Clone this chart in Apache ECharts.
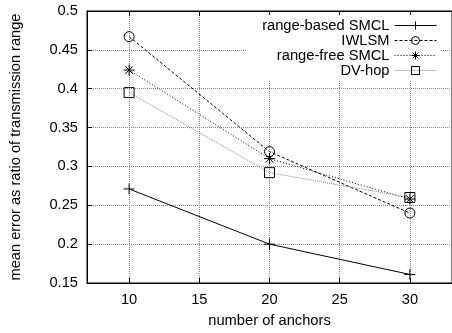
<!DOCTYPE html>
<html>
<head>
<meta charset="utf-8">
<script src="https://cdn.jsdelivr.net/npm/echarts@6/dist/echarts.min.js"></script>
<style>
  html, body { margin: 0; padding: 0; background: #fff; }
  #chart { width: 452px; height: 333px; }
</style>
</head>
<body>
<div id="chart"></div>
<script>
var anchors = [10, 20, 30];
var xTicks = [10, 15, 20, 25, 30];
var rangeBased = [0.271, 0.200, 0.161];
var iwlsm = [0.467, 0.319, 0.240];
var rangeFree = [0.424, 0.310, 0.258];
var dvHop = [0.395, 0.292, 0.260];

var FONT = "Liberation Sans";
var PLUS = "path://M5,0 L5,10 M0,5 L10,5";
var STAR = "path://M5,0 L5,10 M0,5 L10,5 M1.5,1.5 L8.5,8.5 M8.5,1.5 L1.5,8.5";
var SQUARE = "path://M0,0 L10,0 L10,10 L0,10 Z";

function pairs(values) {
  return anchors.map(function (a, i) { return [a, values[i]]; });
}

var chart = echarts.init(document.getElementById("chart"));
var option = {
  animation: false,
  textStyle: { fontFamily: FONT },
  grid: {
    left: 80, right: -3, top: 11, bottom: 46,
    show: true, borderColor: "#000", borderWidth: 1
  },
  legend: {
    orient: "vertical",
    align: "right",
    right: 12, top: 15,
    padding: [3, 3, 3, 16],
    backgroundColor: "#fff",
    itemWidth: 42, itemHeight: 10, itemGap: 0,
    lineStyle: { width: 1 },
    itemStyle: { borderWidth: 1 },
    textStyle: { fontFamily: FONT, fontSize: 14.7, lineHeight: 14.5, color: "#000" },
    data: ["range-based SMCL", "IWLSM", "range-free SMCL", "DV-hop"]
  },
  xAxis: [{
    type: "value", min: 7, max: 33,
    name: "number of anchors", nameLocation: "middle", nameGap: 30,
    nameTextStyle: { fontFamily: FONT, fontSize: 14.7, color: "#000" },
    axisLine: { lineStyle: { color: "#000" } },
    axisTick: { inside: true, length: 5, customValues: xTicks, lineStyle: { color: "#000" } },
    axisLabel: { customValues: xTicks, fontFamily: FONT, fontSize: 14.7, color: "#000", margin: 9 },
    splitLine: { show: true, lineStyle: { color: "#888", type: "dotted" } }
  }, {
    type: "value", min: 7, max: 33, position: "top",
    axisLine: { lineStyle: { color: "#000" } },
    axisTick: { inside: true, length: 5, customValues: xTicks, lineStyle: { color: "#000" } },
    axisLabel: { show: false },
    splitLine: { show: false }
  }],
  yAxis: {
    type: "value", min: 0.15, max: 0.5, interval: 0.05,
    name: "mean error as ratio of transmission range", nameLocation: "middle", nameGap: 64,
    nameTextStyle: { fontFamily: FONT, fontSize: 14.6, color: "#000" },
    axisLine: { lineStyle: { color: "#000" } },
    axisTick: { inside: true, length: 5, lineStyle: { color: "#000" } },
    axisLabel: { fontFamily: FONT, fontSize: 14.7, color: "#000", margin: 9 },
    splitLine: { show: true, lineStyle: { color: "#888", type: "dotted" } }
  },
  series: [{
    name: "range-based SMCL", type: "line", data: pairs(rangeBased),
    symbol: PLUS, symbolSize: 11,
    lineStyle: { color: "#000", width: 1 },
    itemStyle: { color: "none", borderColor: "#000", borderWidth: 1 }
  }, {
    name: "IWLSM", type: "line", data: pairs(iwlsm),
    symbol: "circle", symbolSize: 10,
    lineStyle: { color: "#000", width: 1, type: [3, 2] },
    itemStyle: { color: "none", borderColor: "#000", borderWidth: 1 }
  }, {
    name: "range-free SMCL", type: "line", data: pairs(rangeFree),
    symbol: STAR, symbolSize: 11,
    lineStyle: { color: "#000", width: 1, type: [1, 2] },
    itemStyle: { color: "none", borderColor: "#000", borderWidth: 1 }
  }, {
    name: "DV-hop", type: "line", data: pairs(dvHop),
    symbol: SQUARE, symbolSize: 10,
    lineStyle: { color: "#888", width: 1, type: [1, 1] },
    itemStyle: { color: "none", borderColor: "#000", borderWidth: 1 }
  }]
};
chart.setOption(option);
</script>
</body>
</html>
